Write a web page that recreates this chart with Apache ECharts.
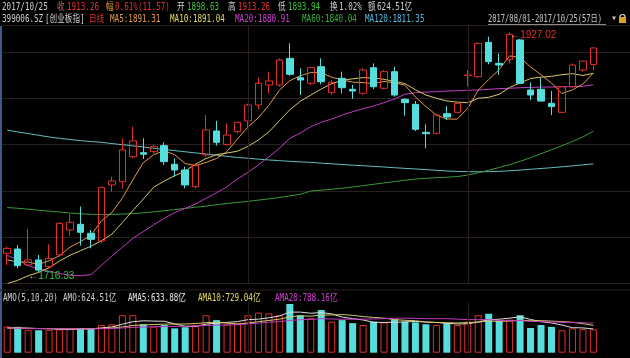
<!DOCTYPE html>
<html><head><meta charset="utf-8">
<script src="https://cdn.jsdelivr.net/npm/echarts/dist/echarts.min.js"></script>
<style>html,body{margin:0;padding:0;background:#000;overflow:hidden}#c{width:630px;height:358px}</style>
</head><body><div id="c"></div>
<script>
const dates = ['2017/08/01','2017/08/02','2017/08/03','2017/08/04','2017/08/07','2017/08/08','2017/08/09','2017/08/10','2017/08/11','2017/08/14','2017/08/15','2017/08/16','2017/08/17','2017/08/18','2017/08/21','2017/08/22','2017/08/23','2017/08/24','2017/08/25','2017/08/28','2017/08/29','2017/08/30','2017/08/31',
'2017/09/01','2017/09/04','2017/09/05','2017/09/06','2017/09/07','2017/09/08','2017/09/11','2017/09/12','2017/09/13','2017/09/14','2017/09/15','2017/09/18','2017/09/19','2017/09/20','2017/09/21','2017/09/22','2017/09/25','2017/09/26','2017/09/27','2017/09/28','2017/09/29',
'2017/10/09','2017/10/10','2017/10/11','2017/10/12','2017/10/13','2017/10/16','2017/10/17','2017/10/18','2017/10/19','2017/10/20','2017/10/23','2017/10/24','2017/10/25'];
const monthStarts = ['2017/09/01','2017/10/09'];

const opens  = [1732.7,1736.5,1722.5,1726.9,1721.0,1731.3,1753.2,1758.2,1750.3,1743.6,1792.8,1795.7,1817.7,1821.2,1822.1,1827.4,1811.0,1806.0,1791.3,1819.2,1840.3,1828.5,1839.7,1849.1,1863.1,1880.7,1880.7,1904.1,1887.1,1882.2,1896.8,1874.0,1886.6,1876.9,1873.4,1895.9,1877.8,1892.4,1868.1,1863.7,1839.1,1838.2,1855.5,1856.7,1888.9,1888.0,1918.2,1899.7,1903.0,1920.3,1876.3,1876.9,1864.6,1856.7,1879.2,1893.9,1898.63];
const closes = [1737.1,1721.9,1726.9,1718.0,1728.3,1759.1,1760.0,1751.2,1745.0,1790.7,1796.3,1823.6,1831.5,1819.8,1826.5,1813.3,1806.0,1792.8,1810.4,1841.2,1830.3,1836.7,1847.9,1863.1,1882.2,1884.2,1902.7,1890.1,1885.1,1895.9,1883.6,1883.0,1878.3,1875.4,1893.9,1879.2,1892.4,1871.9,1865.2,1841.7,1837.9,1854.3,1852.5,1864.6,1889.5,1917.3,1901.2,1898.3,1925.2,1882.2,1871.9,1866.6,1861.7,1879.2,1898.3,1901.69,1913.26];
const lows   = [1722.5,1719.6,1721.0,1716.33,1719.6,1729.8,1748.3,1739.5,1737.1,1741.5,1786.9,1789.9,1816.2,1815.7,1820.6,1810.4,1800.1,1789.9,1789.9,1817.7,1827.4,1827.4,1838.2,1842.6,1859.6,1873.4,1879.2,1888.9,1871.9,1880.7,1881.3,1872.0,1873.4,1868.4,1872.5,1877.2,1876.9,1870.4,1853.7,1840.3,1825.0,1837.3,1849.9,1855.8,1879.2,1887.1,1898.9,1889.5,1899.7,1881.3,1867.5,1866.1,1854.3,1855.8,1878.3,1892.4,1893.94];
const highs  = [1738.6,1740.1,1754.1,1731.3,1740.6,1760.0,1767.0,1773.8,1753.2,1791.3,1800.1,1833.8,1844.1,1833.8,1828.5,1830.3,1816.2,1808.9,1811.8,1854.3,1849.1,1847.0,1848.5,1864.3,1887.1,1892.4,1904.1,1917.3,1895.4,1896.8,1904.1,1885.0,1892.4,1880.7,1895.4,1899.7,1893.9,1896.8,1869.0,1866.6,1846.1,1854.9,1862.2,1865.5,1893.9,1918.2,1923.2,1908.5,1927.02,1921.1,1883.0,1887.1,1875.4,1879.8,1899.7,1901.8,1913.26];

const ma5   = [1727,1725,1725,1723,1726.2,1730.6,1738.2,1743.0,1748.7,1761.2,1768.6,1781.3,1797.4,1812.4,1819.5,1822.9,1819.4,1811.7,1809.8,1812.7,1816.1,1822.3,1833.3,1843.8,1852.0,1862.8,1876.0,1884.5,1888.9,1891.6,1891.5,1887.5,1885.2,1883.2,1882.8,1882.0,1883.8,1882.6,1880.5,1870.1,1861.8,1854.2,1850.8,1850.7,1860.2,1876.1,1885.5,1894.2,1906.3,1904.8,1896.6,1889.7,1882.4,1873.2,1876.4,1881.5,1891.31];
const ma10  = [1706,1709,1713,1716,1720,1726,1731,1735,1739,1743.7,1749.6,1759.8,1770.2,1780.5,1790.9,1796.3,1800.9,1805.1,1811.1,1816.1,1819.5,1820.9,1822.5,1826.8,1832.4,1839.5,1849.2,1858.9,1866.4,1871.8,1877.2,1881.8,1884.9,1886.1,1887.2,1886.8,1885.7,1883.9,1881.9,1876.5,1871.9,1869.0,1866.7,1865.6,1865.2,1869.0,1869.9,1872.5,1878.5,1882.5,1886.4,1887.6,1888.3,1889.8,1890.6,1889.1,1891.04];
const ma20  = [1731,1727,1722,1719,1717,1715,1713.5,1713,1714,1722,1730.4,1738.0,1745.9,1751.8,1757.9,1763.5,1768.5,1772.3,1776.1,1781.1,1786.0,1791.3,1798.1,1803.9,1810.4,1817.7,1825.0,1833.8,1838.5,1844.0,1847.9,1850.8,1854.3,1857.2,1859.9,1862.2,1865.2,1868.4,1872.5,1873.9,1874.5,1874.8,1875.4,1875.7,1876.0,1876.3,1876.9,1877.5,1877.8,1878.3,1878.6,1878.9,1878.9,1879.2,1879.2,1879.5,1880.91];
const ma60  = [1773,1772.3,1771.5,1770.6,1769.8,1769,1768.2,1767.5,1767,1766.8,1767,1767.2,1767.6,1768.3,1769.2,1770.2,1771.2,1772.2,1773.3,1774.2,1775.5,1776.5,1777.5,1778.4,1779.5,1780.6,1781.8,1783.2,1784.6,1787.5,1788.2,1789,1790,1791,1792.2,1793.4,1794.6,1795.8,1797,1798,1798.6,1799.2,1799.6,1800.2,1801.6,1803.5,1805.8,1808.2,1810.6,1813.6,1816.8,1820.3,1823.8,1827.3,1831,1835,1840.04];
const ma120 = [1841,1839.5,1838,1836.5,1835,1833.8,1832.8,1831.8,1831,1830.3,1829.2,1828.2,1827.2,1826.2,1825.1,1824,1823,1822,1821,1820,1819,1818,1817,1816.3,1815.5,1814.8,1814.2,1813.6,1813.1,1812.7,1812,1811.4,1810.8,1810.2,1809.7,1809.2,1808.6,1808,1807.4,1806.9,1806.3,1805.7,1805.1,1804.7,1804.5,1804.4,1804.5,1804.8,1805.3,1805.9,1806.6,1807.3,1808,1808.8,1809.6,1810.5,1811.35];

const amount = [700,690,610,600,610,620,640,660,640,740,760,1000,1000,760,700,740,650,680,740,1000,870,760,780,1000,1070,1050,1000,1300,1000,920,1140,830,870,790,740,830,810,890,830,810,760,740,790,740,830,1000,1040,860,880,1000,660,740,690,600,650,630,624.51];
const ama5  = [660,665,655,645,642,626,616,626,634,660,688,760,828,852,844,840,770,706,702,762,788,810,830,882,896,932,980,1084,1084,1054,1072,1038,952,910,874,812,808,812,820,834,820,806,786,768,772,820,880,894,922,956,888,828,794,738,668,662,633.88];
const ama10 = [660,655,650,645,642,640,638,640,645,651,657,688,727,743,752,764,765,767,777,803,814,790,768,792,829,860,895,957,983,975,1002,1009,1018,997,964,942,923,882,865,854,816,807,799,794,803,820,843,840,845,864,854,854,844,830,812,775,729.04];
const ama20 = [660,655,650,645,640,638,636,635,636,640,645,660,675,685,692,698,702,708,715,727,736,739,748,768,790,812,830,862,880,889,908,900,893,895,897,901,909,920,924,915,909,908,909,896,884,881,883,861,855,859,835,831,822,812,808,798,788.16];

const UP = '#e2302c', DOWN = '#56dede';
const FONT = '"Liberation Sans","Noto Sans CJK SC",sans-serif';
const MONO = '"DejaVu Sans Mono","Noto Sans CJK SC",monospace';
const candleData = dates.map((d, i) => [opens[i], closes[i], lows[i], highs[i]]);
const volData = amount.map((v, i) => ({
  value: v,
  itemStyle: closes[i] >= opens[i]
    ? { color: 'rgba(0,0,0,0)', borderColor: UP, borderWidth: 1 }
    : { color: DOWN }
}));

function lineSeries(name, data, color, xi, yi) {
  return { name, type: 'line', data, xAxisIndex: xi, yAxisIndex: yi, symbol: 'none', smooth: false,
    lineStyle: { color, width: 1 }, z: 2, silent: true };
}
const vLines = { symbol: 'none', silent: true, label: { show: false }, animation: false,
  lineStyle: { color: '#2a1e1e', type: 'solid', width: 1 },
  data: monthStarts.map(d => ({ xAxis: d })) };

function txt(x, y, text, fill, sx) {
  return { type: 'text', x, y, scaleX: sx || 0.76, silent: true,
    style: { text, x: 0, y: 0, fill, font: '10px ' + MONO, verticalAlign: 'top', textVerticalAlign: 'top' } };
}

const chart = echarts.init(document.getElementById('c'));
chart.setOption({
  animation: false,
  backgroundColor: '#000',
  grid: [
    { left: 2, right: 0, top: 25, height: 258.2 },
    { left: 2, right: 0, top: 302.7, height: 50 }
  ],
  xAxis: [
    { type: 'category', data: dates, gridIndex: 0, max: 59, boundaryGap: true,
      axisLine: { show: false }, axisTick: { show: false }, axisLabel: { show: false }, splitLine: { show: false } },
    { type: 'category', data: dates, gridIndex: 1, max: 59, boundaryGap: true,
      axisLine: { show: false }, axisTick: { show: false }, axisLabel: { show: false }, splitLine: { show: false } }
  ],
  yAxis: [
    { type: 'value', gridIndex: 0, min: 1706.46, max: 1933.44, interval: 40.63,
      axisLine: { show: false }, axisTick: { show: false }, axisLabel: { show: false },
      splitLine: { show: true, lineStyle: { color: '#2a1e1e', width: 1 } } },
    { type: 'value', gridIndex: 1, min: 0, max: 1335,
      axisLine: { show: false }, axisTick: { show: false }, axisLabel: { show: false }, splitLine: { show: false } }
  ],
  series: [
    lineSeries('MA120', ma120, '#66bcbc', 0, 0),
    lineSeries('MA60', ma60, '#3a9a3a', 0, 0),
    lineSeries('MA20', ma20, '#c23cc2', 0, 0),
    lineSeries('MA10', ma10, '#d6c866', 0, 0),
    lineSeries('MA5', ma5, '#e29a4a', 0, 0),
    {
      name: 'K', type: 'candlestick', data: candleData, xAxisIndex: 0, yAxisIndex: 0, barWidth: 7, z: 3,
      itemStyle: { color: 'rgba(0,0,0,0)', color0: DOWN, borderColor: UP, borderColor0: DOWN, borderWidth: 1 },
      markLine: vLines,
      markPoint: {
        symbol: 'circle', symbolSize: 1, itemStyle: { color: 'rgba(0,0,0,0)' }, silent: true,
        data: [
          { type: 'max', valueDim: 'highest',
            label: { show: true, position: 'right', distance: 0, offset: [0, 3],
              formatter: p => '{a|←}{v|' + p.value + '}',
              rich: { a: { color: '#bbbbbb', fontSize: 10, fontFamily: FONT }, v: { color: UP, fontSize: 10, fontFamily: FONT } } } },
          { type: 'min', valueDim: 'lowest',
            label: { show: true, position: 'right', distance: 0, offset: [-11, 4],
              formatter: p => '{a|←}{v|' + p.value + '}',
              rich: { a: { color: '#bbbbbb', fontSize: 10, fontFamily: FONT }, v: { color: '#3cc03c', fontSize: 10, fontFamily: FONT } } } }
        ]
      }
    },
    {
      name: 'AMO', type: 'bar', data: volData, xAxisIndex: 1, yAxisIndex: 1, barWidth: 7, z: 2,
      markLine: vLines
    },
    lineSeries('AMA5', ama5, '#dddddd', 1, 1),
    lineSeries('AMA10', ama10, '#d6c866', 1, 1),
    lineSeries('AMA20', ama20, '#c23cc2', 1, 1)
  ],
  graphic: [
    { type: 'rect', left: 0, top: 26, shape: { width: 2, height: 332 }, style: { fill: '#3b5a8a' }, silent: true },
    { type: 'line', shape: { x1: 0, y1: 290, x2: 630, y2: 290 }, style: { stroke: '#2a1e1e', lineWidth: 1 }, silent: true },
    txt(2, 2, '2017/10/25', '#d0d0d0'),
    txt(57, 2, '收', '#c85a5a'),
    txt(67, 2, '1913.26', UP),
    txt(106, 2, '幅', '#e0a030'),
    txt(115, 2, '0.61%(11.57)', UP),
    txt(177, 2, '开', '#d0d0d0'),
    txt(187, 2, '1898.63', '#3cc03c'),
    txt(228, 2, '高', '#d0d0d0'),
    txt(238, 2, '1913.26', UP),
    txt(278, 2, '低', '#d0d0d0'),
    txt(288, 2, '1893.94', '#3cc03c'),
    txt(330, 2, '换', '#d0d0d0'),
    txt(339, 2, '1.02%', '#d0d0d0'),
    txt(368, 2, '额', '#d0d0d0'),
    txt(377, 2, '624.51亿', '#d0d0d0'),
    txt(2, 14, '399006.SZ', '#d0d0d0'),
    txt(45, 14, '[创业板指]', '#d0d0d0'),
    txt(89, 14, '日线', UP),
    txt(110, 14, 'MA5:1891.31', '#e29a4a'),
    txt(170, 14, 'MA10:1891.04', '#e6dc5a'),
    txt(235, 14, 'MA20:1880.91', '#d040d0'),
    txt(302, 14, 'MA60:1840.04', '#3cae3c'),
    txt(365, 14, 'MA120:1811.35', '#5ab8e0'),
    txt(488, 14, '2017/08/01-2017/10/25(57日)', '#c8c8c8', 0.71),
    { type: 'line', shape: { x1: 488, y1: 24.5, x2: 606, y2: 24.5 }, style: { stroke: '#8a8a8a', lineWidth: 1 }, silent: true },
    txt(611, 13, '▾', '#bbbbbb', 1),
    { type: 'arc', shape: { cx: 622.5, cy: 17, r: 2.5, startAngle: Math.PI, endAngle: 2 * Math.PI }, style: { stroke: '#d8d8d8', fill: null, lineWidth: 1.2 }, silent: true },
    { type: 'rect', shape: { x: 619, y: 17, width: 7, height: 6 }, style: { fill: '#e0a020' }, silent: true },
    txt(3, 293, 'AMO(5,10,20)', '#d0d0d0'),
    txt(63, 293, 'AMO:624.51亿', '#d0d0d0'),
    txt(128, 293, 'AMA5:633.88亿', '#e8e8e8'),
    txt(198, 293, 'AMA10:729.04亿', '#e6dc5a'),
    txt(275, 293, 'AMA20:788.16亿', '#d040d0')
  ]
});
</script>
</body></html>
